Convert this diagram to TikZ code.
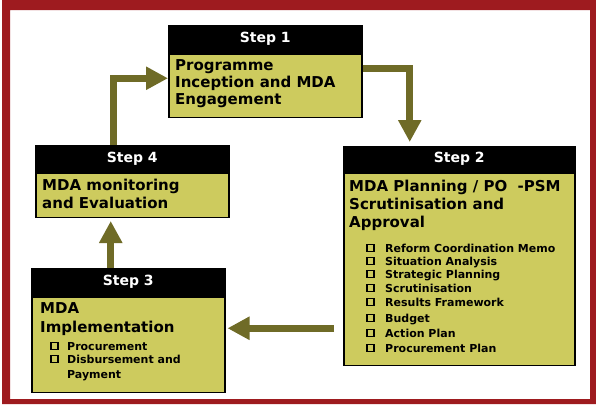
\documentclass[tikz,border=0pt]{standalone}
\usepackage{fontspec}
\setmainfont{DejaVu Sans}
\usetikzlibrary{positioning,arrows.meta,calc}
\definecolor{framered}{HTML}{9E1B1F}
\definecolor{stepfill}{HTML}{CDCB5E}
\definecolor{flowolive}{HTML}{6F6B27}

\tikzset{
  stephead/.style={draw=black,fill=black,text=white,line width=1.5pt,inner sep=0pt,
    anchor=north west,font=\bfseries\fontsize{14}{16}\selectfont},
  stepbody/.style={draw=black,fill=stepfill,line width=1.5pt,inner sep=0pt,anchor=north west},
  bodytext/.style={anchor=north west,align=left,inner sep=0pt,
    font=\bfseries\fontsize{15}{18}\selectfont,execute at begin node={\strut}},
  itemtext/.style={anchor=base west,inner sep=0pt,font=\bfseries\fontsize{11}{12}\selectfont},
  itembox/.style={draw=black,fill=stepfill,line width=1.3pt,minimum size=7pt,inner sep=0pt},
  flowarrow/.style={draw=flowolive,line width=7pt,-{Triangle[length=22pt,width=22pt]}}
}

\begin{document}
\begin{tikzpicture}[x=1pt,y=-1pt]
  \useasboundingbox (0,0) rectangle (596,405);
  % frame
  \fill[framered,even odd rule] (2,0) rectangle (596,404) (10,10) rectangle (590,399);

  % step boxes
  \node[stephead,minimum width=193,minimum height=27] (s1head) at (168,25) {Step 1};
  \node[stepbody,minimum width=193,minimum height=63] (s1body) at (s1head.south west) {};
  \node[stephead,minimum width=231,minimum height=25] (s2head) at (343,146) {Step 2};
  \node[stepbody,minimum width=231,minimum height=192] (s2body) at (s2head.south west) {};
  \node[stephead,minimum width=193,minimum height=27] (s3head) at (31,268) {Step 3};
  \node[stepbody,minimum width=193,minimum height=95] (s3body) at (s3head.south west) {};
  \node[stephead,minimum width=193,minimum height=26] (s4head) at (35,145) {Step 4};
  \node[stepbody,minimum width=193,minimum height=44] (s4body) at (s4head.south west) {};

  % box texts
  \node[bodytext] (s1text) at ([shift={(7,5.4)}]s1body.north west)
    {Programme\\[-1pt]Inception and MDA\\[-1pt]Engagement};
  \node[bodytext] (s2text) at ([shift={(6,7.4)}]s2body.north west)
    {MDA Planning / PO\ \ -PSM\\Scrutinisation and\\Approval};
  \node[bodytext] (s3text) at ([shift={(9,5.4)}]s3body.north west)
    {MDA\\[1pt]Implementation};
  \node[bodytext] (s4text) at ([shift={(7,6.4)}]s4body.north west)
    {MDA monitoring\\and Evaluation};

  % checklist of step 2
  \foreach \i/\yy/\txt in {1/252/Reform Coordination Memo,2/265/Situation Analysis,
      3/278/Strategic Planning,4/292/Scrutinisation,5/306/Results Framework,
      6/322/Budget,7/337/Action Plan,8/352/Procurement Plan} {
    \node[itembox] (b2\i) at (370.5,\yy-4) {};
    \node[itemtext] (t2\i) at (385,\yy) {\txt};
  }
  % checklist of step 3
  \foreach \i/\yy/\txt in {1/350/Procurement,2/363/Disbursement and} {
    \node[itembox] (b3\i) at (54.5,\yy-4) {};
    \node[itemtext] (t3\i) at (67,\yy) {\txt};
  }
  \node[itemtext] (t33) at (67,378) {Payment};

  % flow
  \draw[flowarrow] ([xshift=-19pt]s4head.north) |- ([yshift=7.5pt]s1body.west);
  \draw[flowarrow] ([yshift=17.5pt]s1body.east) -| ([xshift=-49.5pt,yshift=4pt]s2head.north);
  \draw[flowarrow] ([xshift=-9pt,yshift=-59pt]s2body.west) -- ([xshift=2pt,yshift=16.5pt]s3body.east);
  \draw[flowarrow] ([xshift=-17.5pt]s3head.north) -- ([xshift=-21.5pt,yshift=-3pt]s4body.south);
\end{tikzpicture}
\end{document}
